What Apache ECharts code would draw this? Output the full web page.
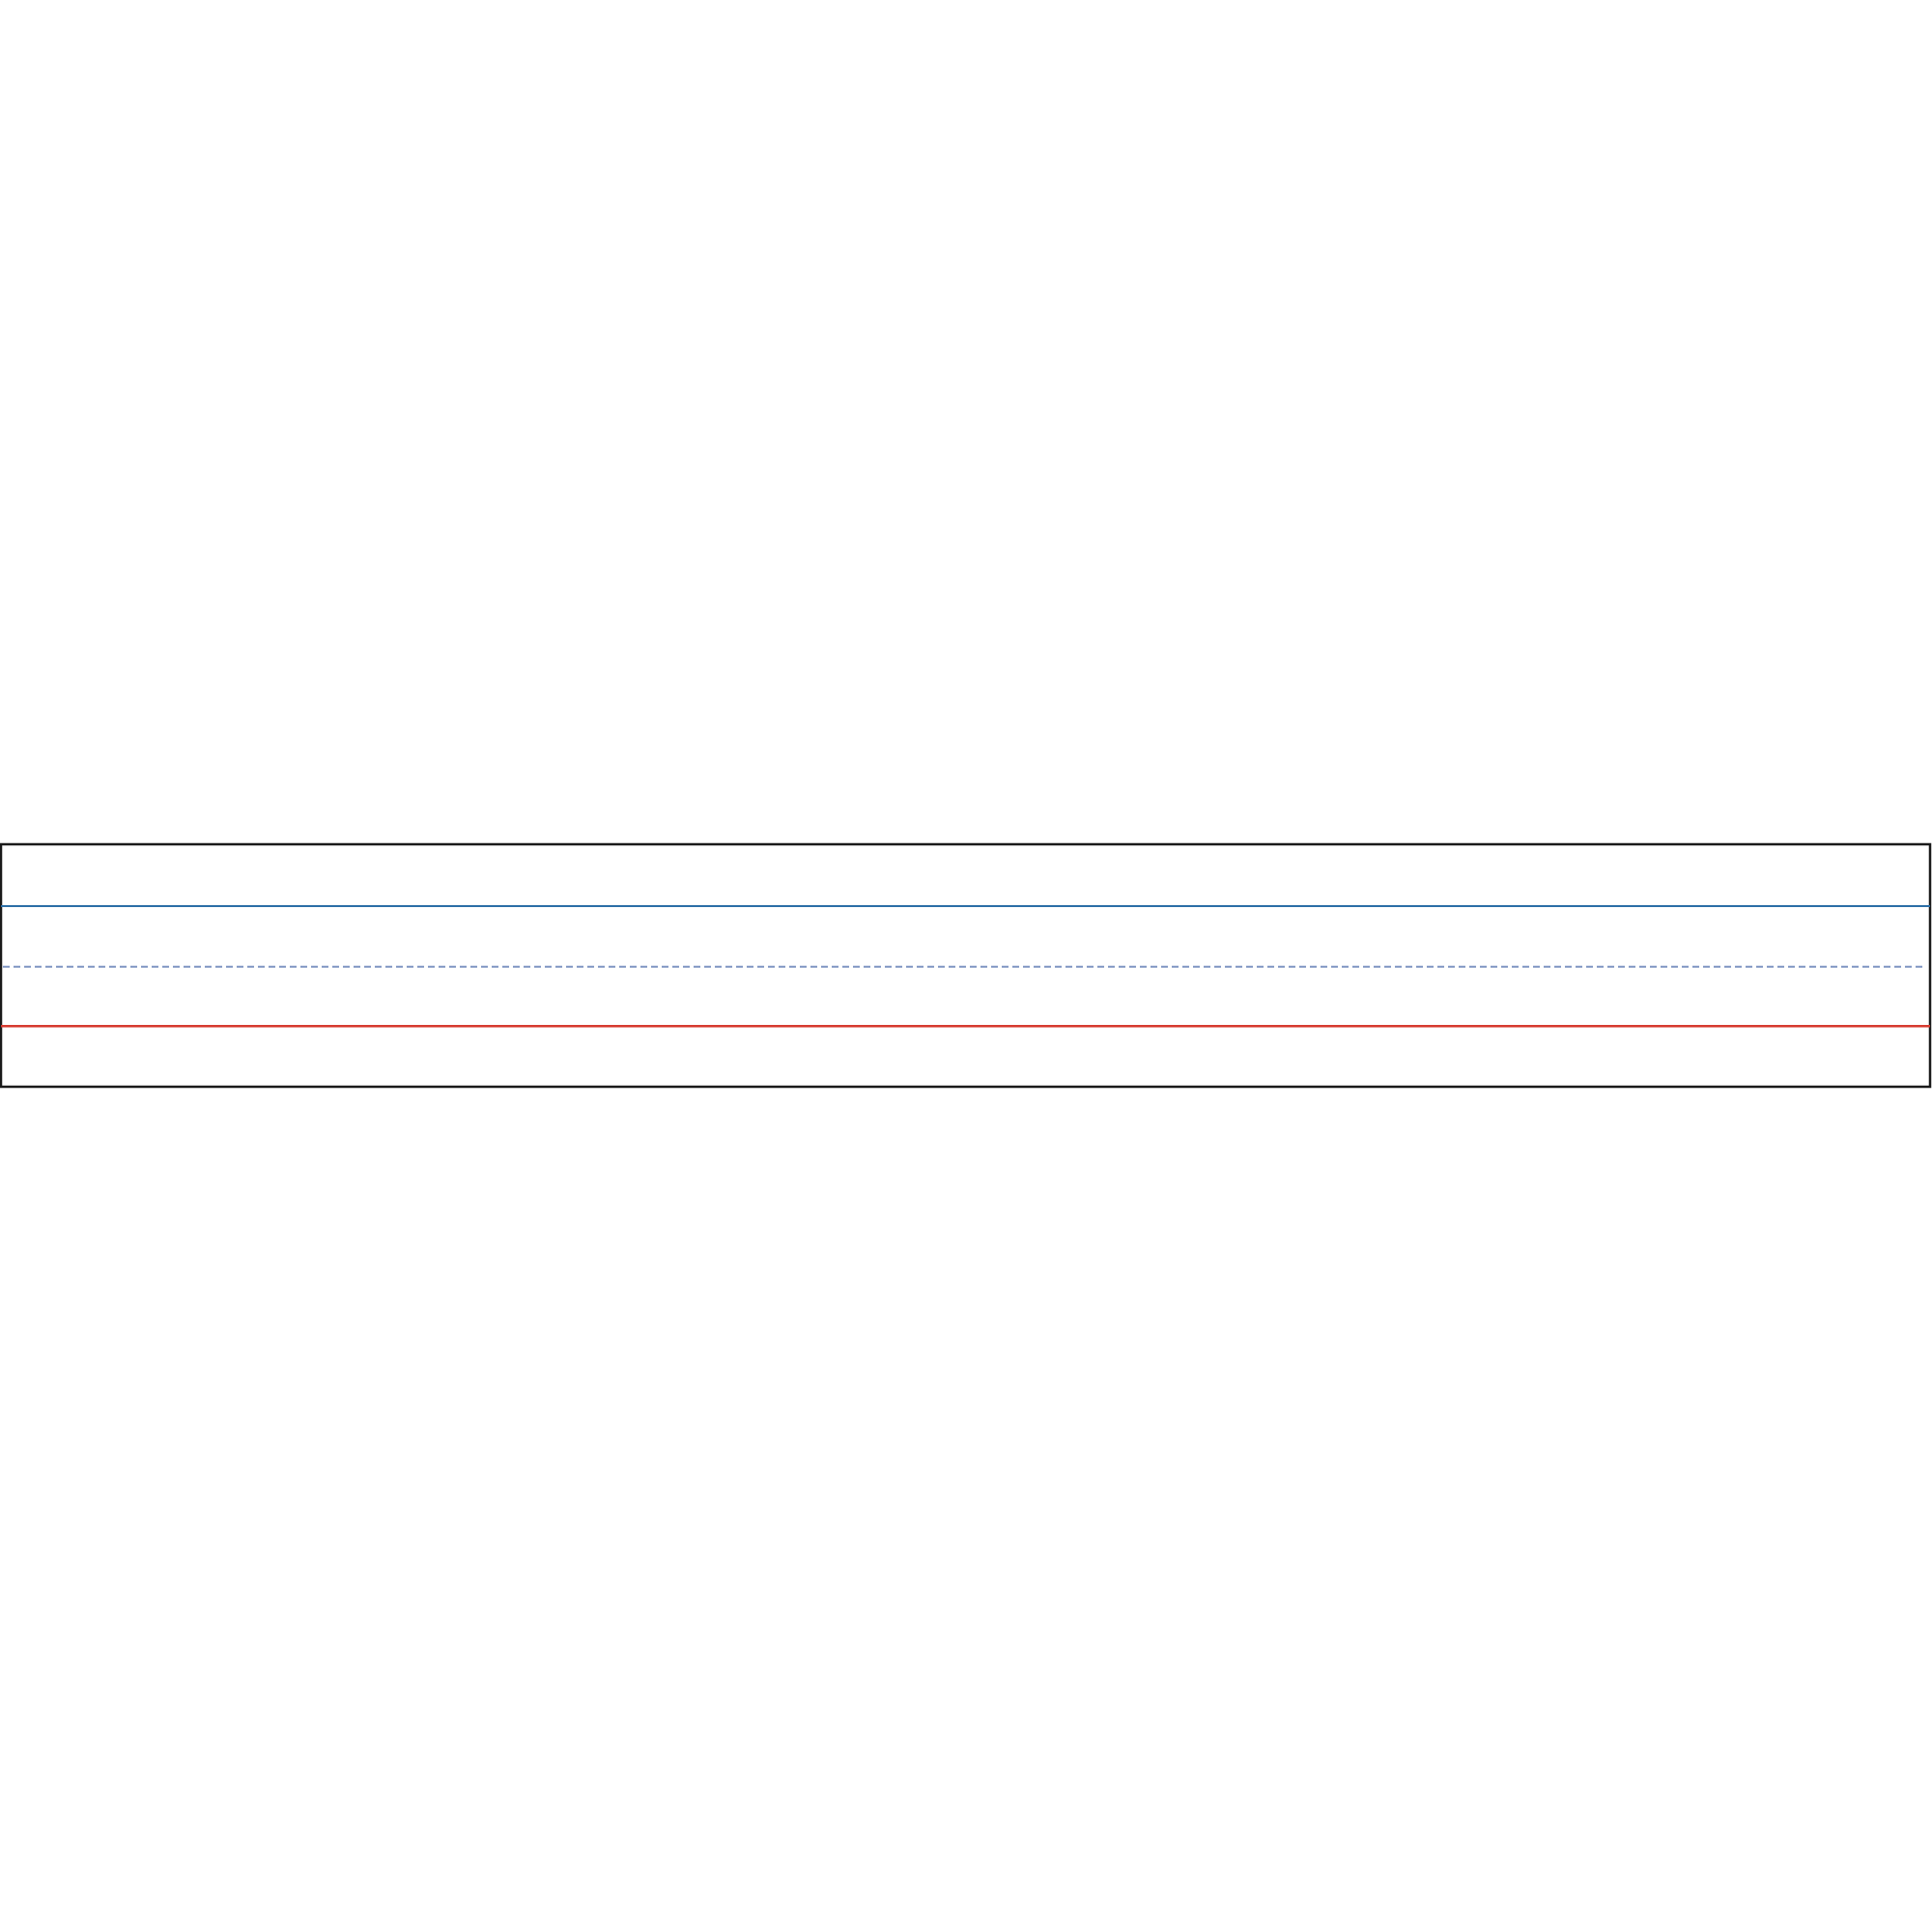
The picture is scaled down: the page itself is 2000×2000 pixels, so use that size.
<!DOCTYPE html>
<html>
<head>
<meta charset="utf-8">
<script src="https://cdn.jsdelivr.net/npm/echarts@6/dist/echarts.min.js"></script>
<style>html,body{margin:0;padding:0;background:#fff;}#c{width:2000px;height:2000px;}</style>
</head>
<body>
<div id="c"></div>
<script>
const lineNames = ['headline', 'midline', 'baseline'];
const lineLevels = [2.98, 1.98, 1.0];
const lineStarts = [0, 0.001, 0];
const lineEnds = [1, 0.997, 1];

const chart = echarts.init(document.getElementById('c'), null, {renderer: 'canvas'});
const styles = [
  {color: '#2b6ea6', width: 2, type: 'solid'},
  {color: '#7f95c2', width: 2, type: [7, 4]},
  {color: '#d63a2f', width: 2.5, type: 'solid'}
];
chart.setOption({
  animation: false,
  backgroundColor: '#ffffff',
  grid: {left: 1, right: 2, top: 874, bottom: 875, show: true, borderColor: '#1a1a1a', borderWidth: 2.5, backgroundColor: 'transparent'},
  xAxis: {type: 'value', min: 0, max: 1, show: false},
  yAxis: {type: 'value', min: 0, max: 4, show: false},
  series: lineNames.map((n, i) => ({
    name: n,
    type: 'line',
    symbol: 'none',
    data: [[lineStarts[i], lineLevels[i]], [lineEnds[i], lineLevels[i]]],
    lineStyle: styles[i],
    z: 1
  }))
});
</script>
</body>
</html>
